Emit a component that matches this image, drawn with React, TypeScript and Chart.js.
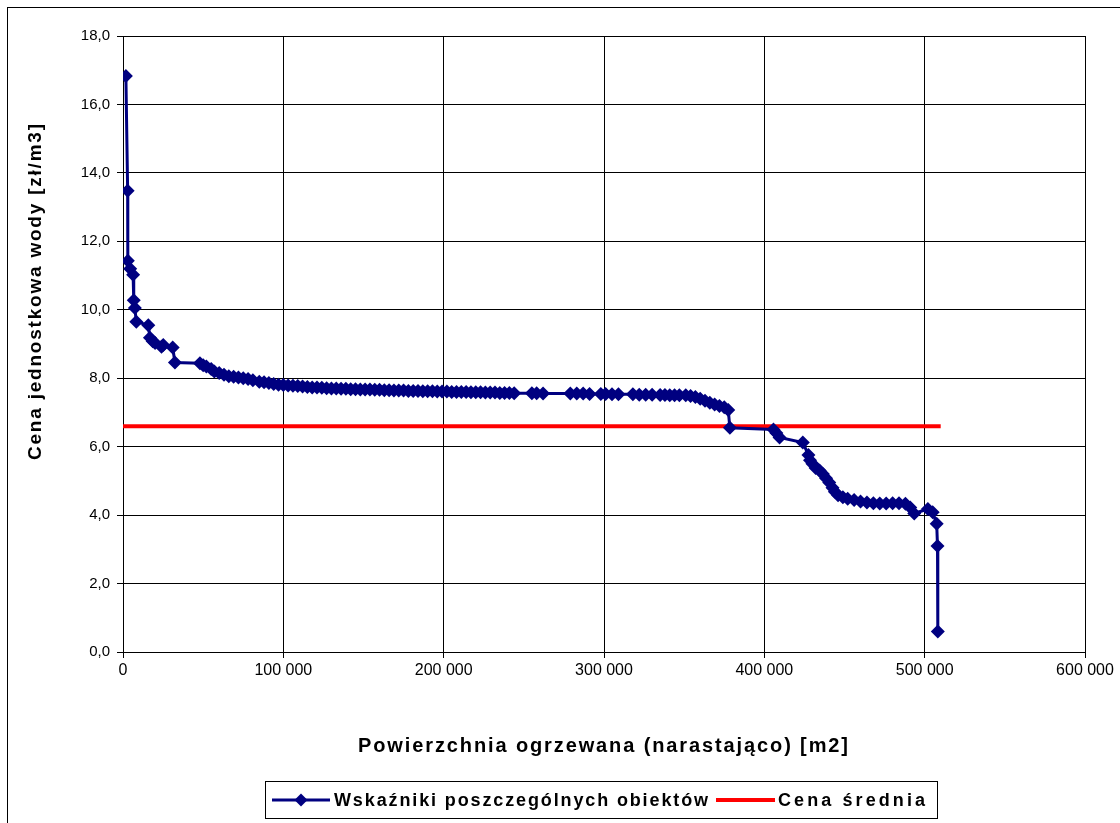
import React, { useEffect, useRef } from "react";
import { Chart, registerables } from "chart.js";

Chart.register(...registerables);

// Cumulative heated area [m2]
const areaValues: number[] = [
  1800, 2900, 3000, 4500, 6300, 6700, 7400, 8300, 15800, 16800, 18500, 20000,
  24000, 25100, 31000, 32400, 48000, 50000, 52000, 55000, 57000, 60000, 63000,
  66000, 69000, 72000, 75000, 78000, 81000, 85000, 88000, 91000, 94000, 97000,
  100000, 103000, 106000, 109000, 112000, 115000, 118000, 121000, 124000,
  127000, 130000, 133000, 136000, 139000, 142000, 145000, 148000, 151000,
  154000, 157000, 160000, 163000, 166000, 169000, 172000, 175000, 178000,
  181000, 184000, 187000, 190000, 193000, 196000, 199000, 202000, 205000,
  208000, 211000, 214000, 217000, 220000, 223000, 226000, 229000, 232000,
  235000, 238000, 241000, 244000, 255000, 258000, 262000, 279000, 283000,
  287000, 291000, 298000, 301000, 305000, 309000, 318000, 322000, 326000,
  330000, 335000, 338000, 341000, 344000, 347000, 351000, 354000, 357000,
  360000, 363000, 366000, 369000, 372000, 375000, 377500, 378500, 405700,
  407500, 409500, 424000, 427500, 428500, 430000, 432000, 434500, 436500,
  438500, 440500, 442500, 444000, 446000, 449000, 452000, 456000, 460000,
  464000, 468000, 472000, 476000, 480000, 484000, 488000, 491000, 493500,
  502000, 505000, 507500, 508000, 508200,
];

// Unit price of water [zł/m3]
const priceValues: number[] = [
  16.83, 13.48, 11.43, 11.2, 11.02, 10.28, 10.05, 9.65, 9.55, 9.18, 9.08, 9.03,
  8.92, 8.97, 8.9, 8.46, 8.44, 8.38, 8.34, 8.27, 8.2, 8.15, 8.1,
  8.06, 8.04, 8.02, 8.0, 7.98, 7.94, 7.9, 7.88, 7.86, 7.83, 7.81,
  7.8, 7.79, 7.78, 7.77, 7.76, 7.74, 7.73, 7.73, 7.72,
  7.71, 7.7, 7.7, 7.69, 7.69, 7.68, 7.68, 7.67, 7.67,
  7.67, 7.66, 7.66, 7.65, 7.65, 7.64, 7.64, 7.64, 7.63,
  7.63, 7.63, 7.62, 7.62, 7.62, 7.61, 7.61, 7.61, 7.6,
  7.6, 7.6, 7.6, 7.59, 7.59, 7.59, 7.58, 7.58, 7.58,
  7.57, 7.57, 7.57, 7.56, 7.56, 7.56, 7.55, 7.55, 7.55,
  7.55, 7.54, 7.54, 7.54, 7.53, 7.53, 7.53, 7.52, 7.52,
  7.52, 7.51, 7.51, 7.5, 7.5, 7.5, 7.5, 7.48, 7.45,
  7.4, 7.34, 7.28, 7.23, 7.19, 7.15, 7.07, 6.55, 6.5,
  6.4, 6.27, 6.12, 5.76, 5.6, 5.5, 5.38, 5.3, 5.2,
  5.08, 4.95, 4.8, 4.68, 4.58, 4.52, 4.48, 4.44, 4.4,
  4.37, 4.35, 4.34, 4.34, 4.35, 4.35, 4.33, 4.22, 4.05,
  4.18, 4.08, 3.75, 3.1, 0.6,
];

const avgArea: number[] = [0, 510000];
const avgPrice: number[] = [6.6, 6.6];

const seriesNames: string[] = ["Wskaźniki poszczególnych obiektów", "Cena średnia"];
const xTitle = "Powierzchnia ogrzewana (narastająco) [m2]";
const yTitle = "Cena jednostkowa wody [zł/m3]";

const FONT = "'Liberation Sans', Arial, sans-serif";
const NAVY = "#000080";
const RED = "#FF0000";

// draw text fitted to a target width using letter spacing
function drawSpaced(ctx: any, text: string, x: number, y: number, target: number, align: string) {
  ctx.letterSpacing = "0px";
  const w = ctx.measureText(text).width;
  const sp = Math.max(0, (target - w) / (text.length - 1));
  ctx.letterSpacing = `${sp}px`;
  const total = w + sp * (text.length - 1);
  let sx = x;
  if (align === "center") sx = x - total / 2;
  ctx.textAlign = "left";
  ctx.fillText(text, sx, y);
  ctx.letterSpacing = "0px";
}

const framePlugin = {
  id: "frame",
  beforeDraw(chart: any) {
    const ctx = chart.ctx;
    ctx.save();
    ctx.fillStyle = "#ffffff";
    ctx.fillRect(0, 0, chart.width, chart.height);
    ctx.strokeStyle = "#000000";
    ctx.lineWidth = 1;
    ctx.strokeRect(7.5, 7.5, 1300, 1000);
    ctx.restore();
  },
};

const titlesPlugin = {
  id: "axisTitles",
  afterDraw(chart: any) {
    const ctx = chart.ctx;
    ctx.save();
    ctx.fillStyle = "#000000";
    ctx.textBaseline = "middle";
    ctx.font = `bold 20px ${FONT}`;
    drawSpaced(ctx, xTitle, 603, 746, 490, "center");
    ctx.font = `bold 19px ${FONT}`;
    ctx.translate(36, 292);
    ctx.rotate(-Math.PI / 2);
    drawSpaced(ctx, yTitle, 0, 0, 336, "center");
    ctx.restore();
  },
};

const legendPlugin = {
  id: "customLegend",
  afterDraw(chart: any) {
    const ctx = chart.ctx;
    ctx.save();
    ctx.strokeStyle = "#000000";
    ctx.lineWidth = 1;
    ctx.strokeRect(265.5, 781.5, 672, 37);
    const cy = 800;
    ctx.textBaseline = "middle";
    // series 1
    ctx.strokeStyle = NAVY;
    ctx.lineWidth = 3;
    ctx.beginPath();
    ctx.moveTo(272, cy);
    ctx.lineTo(330, cy);
    ctx.stroke();
    ctx.fillStyle = NAVY;
    ctx.beginPath();
    ctx.moveTo(301, cy - 6.5);
    ctx.lineTo(307.5, cy);
    ctx.lineTo(301, cy + 6.5);
    ctx.lineTo(294.5, cy);
    ctx.closePath();
    ctx.fill();
    ctx.fillStyle = "#000000";
    ctx.font = `bold 18px ${FONT}`;
    drawSpaced(ctx, seriesNames[0], 334, cy + 1, 374, "left");
    // series 2
    ctx.strokeStyle = RED;
    ctx.lineWidth = 4;
    ctx.beginPath();
    ctx.moveTo(716, cy);
    ctx.lineTo(775, cy);
    ctx.stroke();
    drawSpaced(ctx, seriesNames[1], 778, cy + 1, 147, "left");
    ctx.restore();
  },
};

export default function App() {
  const canvasRef = useRef<HTMLCanvasElement | null>(null);

  useEffect(() => {
    const canvas = canvasRef.current;
    if (!canvas) return;
    const chart = new Chart(canvas, {
      type: "scatter",
      data: {
        datasets: [
          {
            label: seriesNames[0],
            data: areaValues.map((x, i) => ({ x, y: priceValues[i] })),
            showLine: true,
            borderColor: NAVY,
            borderWidth: 3,
            backgroundColor: NAVY,
            pointStyle: "rectRot",
            pointRadius: 7,
            pointBackgroundColor: NAVY,
            pointBorderColor: NAVY,
            pointBorderWidth: 0,
            tension: 0,
          },
          {
            label: seriesNames[1],
            data: avgArea.map((x, i) => ({ x, y: avgPrice[i] })),
            showLine: true,
            borderColor: RED,
            borderWidth: 4,
            pointRadius: 0,
            tension: 0,
          },
        ],
      },
      options: {
        responsive: false,
        animation: false,
        layout: { padding: { left: 20, right: 35, top: 36, bottom: 63 } },
        plugins: {
          legend: { display: false },
          tooltip: { enabled: false },
        },
        scales: {
          x: {
            type: "linear",
            min: 0,
            max: 600000,
            border: { color: "#000000", width: 1 },
            grid: { color: "#000000", lineWidth: 1, tickLength: 6 },
            ticks: {
              stepSize: 100000,
              padding: 3,
              color: "#000000",
              font: { family: FONT, size: 16 },
              maxRotation: 0,
              callback: (v: any) => (v === 0 ? "0" : `${Math.round(v / 1000)} 000`),
            },
            title: { display: false, text: xTitle },
            afterFit: (scale: any) => {
              scale.height = 108;
            },
          },
          y: {
            type: "linear",
            min: 0,
            max: 18,
            border: { color: "#000000", width: 1 },
            grid: { color: "#000000", lineWidth: 1, tickLength: 6 },
            ticks: {
              stepSize: 2,
              padding: 7,
              color: "#000000",
              font: { family: FONT, size: 15 },
              callback: (v: any) => Number(v).toFixed(1).replace(".", ","),
            },
            title: { display: false, text: yTitle },
            afterFit: (scale: any) => {
              scale.width = 103;
            },
          },
        },
      },
      plugins: [framePlugin, titlesPlugin, legendPlugin],
    });
    return () => chart.destroy();
  }, []);

  return (
    <div style={{ position: "absolute", left: 0, top: 0, width: 1120, height: 823, background: "#fff" }}>
      <canvas ref={canvasRef} width={1120} height={823} />
    </div>
  );
}
